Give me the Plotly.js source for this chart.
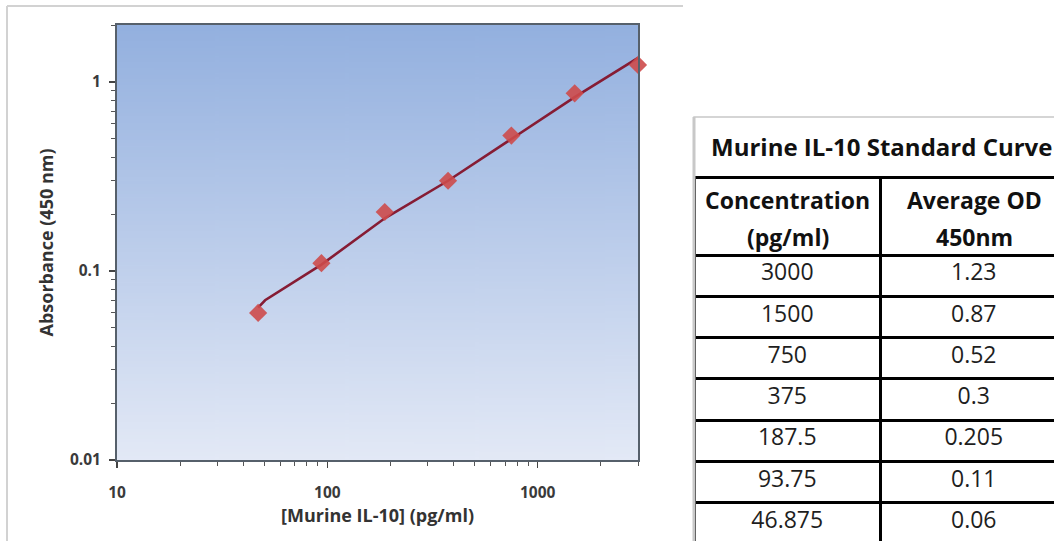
<!DOCTYPE html>
<html>
<head>
<meta charset="utf-8">
<script src="https://cdn.plot.ly/plotly-3.0.1.min.js"></script>
<style>
  html, body { margin: 0; padding: 0; overflow: hidden; background: #ffffff; }
  #chart { width: 1070px; height: 546px; }
</style>
</head>
<body>
<div id="chart"></div>
<script>
// ---- data ----
const concentration = [3000, 1500, 750, 375, 187.5, 93.75, 46.875];
const averageOD = [1.23, 0.87, 0.52, 0.3, 0.205, 0.11, 0.06];
const concentrationLabels = ["3000", "1500", "750", "375", "187.5", "93.75", "46.875"];
const odLabels = ["1.23", "0.87", "0.52", "0.3", "0.205", "0.11", "0.06"];
// fitted curve
const fitX = [46.875, 50.6, 93.75, 187.5, 375, 750, 1500, 3000];
const fitY = [0.064, 0.070, 0.108, 0.19, 0.30, 0.50, 0.83, 1.34];
const xTickVals = [10, 100, 1000];
const xTickText = ["10", "100", "1000"];
const yTickVals = [0.01, 0.1, 1];
const yTickText = ["0.01", "0.1", "1"];
const xMinorTicks = [20, 30, 40, 50, 60, 70, 80, 90, 200, 300, 400, 500, 600, 700, 800, 900, 2000, 3000];
const yMinorTicks = [0.02, 0.03, 0.04, 0.05, 0.06, 0.07, 0.08, 0.09, 0.2, 0.3, 0.4, 0.5, 0.6, 0.7, 0.8, 0.9, 2];
const tableTitle = "Murine IL-10 Standard Curve";
const headerLine1 = ["Concentration", "Average OD"];
const headerLine2 = ["(pg/ml)", "450nm"];
const xTitle = "[Murine IL-10] (pg/ml)";
const yTitle = "Absorbance (450 nm)";

// ---- layout helpers (pixels -> paper fractions) ----
const W = 1070, H = 546;
const px = v => v / W;
const py = v => 1 - v / H;
const plotL = 117, plotR = 638, plotT = 25, plotB = 460;
const tabL = 694, tabR = 1068, tabTitleT = 117, tabHeadT = 177, tabHeadH = 78, rowH = 41.3;
const colCenters = [tabL + (tabR - tabL) / 4, tabL + 3 * (tabR - tabL) / 4];

// vertical gradient for the plot area
const cv = document.createElement('canvas');
cv.width = 8; cv.height = 256;
const ctx = cv.getContext('2d');
const g = ctx.createLinearGradient(0, 0, 0, 256);
g.addColorStop(0, '#93b0df');
g.addColorStop(1, '#e3e9f6');
ctx.fillStyle = g;
ctx.fillRect(0, 0, 8, 256);
const gradURL = cv.toDataURL('image/png');

const chartFont = '"Open Sans", Lato, sans-serif';
const tableFont = '"Open Sans", Lato, sans-serif';

const traces = [
  {
    type: 'scatter', mode: 'lines',
    x: fitX, y: fitY,
    line: { color: '#861c34', width: 2.6 },
    hoverinfo: 'skip', showlegend: false, cliponaxis: false
  },
  {
    type: 'scatter', mode: 'markers',
    x: concentration, y: averageOD,
    marker: { symbol: 'diamond', size: 14, color: '#cd4b4b', opacity: 0.9 },
    showlegend: false, cliponaxis: false
  },
  {
    type: 'table',
    domain: { x: [px(tabL), px(tabR)], y: [0, py(tabHeadT)] },
    columnwidth: [1, 1],
    header: {
      values: ['', ''],
      align: 'center', height: tabHeadH,
      font: { family: tableFont, size: 23, color: '#111111', weight: 'bold' },
      fill: { color: '#ffffff' },
      line: { color: '#000000', width: 3 }
    },
    cells: {
      values: [concentrationLabels, odLabels],
      align: 'center', height: rowH,
      font: { family: tableFont, size: 23, color: '#1e1e1e' },
      fill: { color: '#ffffff' },
      line: { color: '#000000', width: 3 }
    }
  }
];

const axisCommon = {
  type: 'log',
  showgrid: false, zeroline: false,
  showline: true, linecolor: '#56606b', linewidth: 2, mirror: true,
  ticks: 'outside', ticklen: 6, tickwidth: 1.5, tickcolor: '#444444',
  tickmode: 'array',
  tickfont: { family: chartFont, size: 15.5, color: '#3a3a3a', weight: 'bold' },
  fixedrange: true
};

const headerAnnotations = [];
headerLine1.forEach((t, i) => headerAnnotations.push({
  text: t, xref: 'paper', yref: 'paper', x: px(colCenters[i]), y: py(tabHeadT + 23),
  xanchor: 'center', yanchor: 'middle', showarrow: false,
  font: { family: tableFont, size: 23, color: '#111111', weight: 'bold' }
}));
headerLine2.forEach((t, i) => headerAnnotations.push({
  text: t, xref: 'paper', yref: 'paper', x: px(colCenters[i]), y: py(tabHeadT + 60),
  xanchor: 'center', yanchor: 'middle', showarrow: false,
  font: { family: tableFont, size: 23, color: '#111111', weight: 'bold' }
}));

const layout = {
  width: W, height: H,
  margin: { l: 0, r: 0, t: 0, b: 0 },
  paper_bgcolor: '#ffffff',
  plot_bgcolor: 'rgba(0,0,0,0)',
  showlegend: false,
  xaxis: Object.assign({}, axisCommon, {
    domain: [px(plotL), px(plotR)],
    range: [1, Math.log10(3000)],
    tickvals: xTickVals, ticktext: xTickText,
    ticklabelstandoff: 11,
    minor: { tickmode: 'array', tickvals: xMinorTicks, ticks: 'outside', ticklen: 4, tickcolor: '#555555', tickwidth: 1 },
    title: { text: xTitle, font: { family: chartFont, size: 18, color: '#333333', weight: 'bold' }, standoff: 8 }
  }),
  yaxis: Object.assign({}, axisCommon, {
    domain: [py(plotB), py(plotT)],
    range: [-2, Math.log10(2)],
    tickvals: yTickVals, ticktext: yTickText,
    ticklabelstandoff: 5,
    minor: { tickmode: 'array', tickvals: yMinorTicks, ticks: 'outside', ticklen: 4, tickcolor: '#555555', tickwidth: 1 },
    title: { text: yTitle, font: { family: chartFont, size: 18, color: '#333333', weight: 'bold' }, standoff: 12 }
  }),
  images: [{
    source: gradURL, xref: 'paper', yref: 'paper',
    x: px(plotL), y: py(plotT), sizex: px(plotR) - px(plotL), sizey: py(plotT) - py(plotB),
    xanchor: 'left', yanchor: 'top', sizing: 'stretch', layer: 'below'
  }],
  shapes: [
    // chart frame (top and left edges)
    { type: 'line', xref: 'paper', yref: 'paper', x0: px(7), x1: px(683), y0: py(6), y1: py(6), line: { color: '#d2d2d2', width: 2 } },
    { type: 'line', xref: 'paper', yref: 'paper', x0: px(7), x1: px(7), y0: py(6), y1: 0, line: { color: '#d2d2d2', width: 2 } },
    // table title box
    { type: 'rect', xref: 'paper', yref: 'paper', x0: px(tabL), x1: px(tabR), y0: py(tabHeadT), y1: py(tabTitleT), line: { color: '#c8c8c8', width: 1.5 }, layer: 'below' },
    // light outer left edge of the table
    { type: 'line', xref: 'paper', yref: 'paper', x0: px(tabL), x1: px(tabL), y0: 0, y1: py(tabTitleT), line: { color: '#c8c8c8', width: 3 }, layer: 'above' }
  ],
  annotations: [
    { text: tableTitle, xref: 'paper', yref: 'paper', x: px((tabL + tabR) / 2), y: py(147), xanchor: 'center', yanchor: 'middle', showarrow: false,
      font: { family: tableFont, size: 24, color: '#111111', weight: 'bold' } }
  ].concat(headerAnnotations)
};

Plotly.newPlot('chart', traces, layout, { displayModeBar: false, staticPlot: true });
</script>
</body>
</html>
